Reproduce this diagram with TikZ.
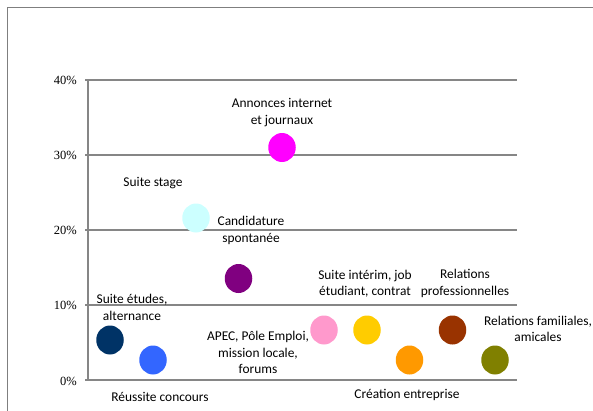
\documentclass[tikz,border=0pt]{standalone}
\usepackage{fontspec}
\setmainfont{Carlito}
\newfontfamily\tickfont{Liberation Serif}
\usetikzlibrary{shapes.geometric}
\definecolor{gridgray}{HTML}{868686}
\definecolor{framegray}{HTML}{7F7F7F}
\definecolor{cnavy}{HTML}{003366}
\definecolor{cblue}{HTML}{3366FF}
\definecolor{ccyan}{HTML}{CCFFFF}
\definecolor{cpurple}{HTML}{800080}
\definecolor{cmagenta}{HTML}{FF00FF}
\definecolor{cpink}{HTML}{FF99CC}
\definecolor{cyellow}{HTML}{FFCC00}
\definecolor{corange}{HTML}{FF9900}
\definecolor{cbrown}{HTML}{993300}
\definecolor{colive}{HTML}{808000}
\tikzset{
  bubble/.style={ellipse,minimum width=27.5pt,minimum height=29pt,inner sep=0pt,fill=#1},
  lab/.style={align=center,inner sep=0pt,font=\fontsize{13.4}{16.4}\selectfont},
  tick/.style={anchor=east,inner sep=0pt,font=\tickfont\fontsize{12.5}{14}\selectfont},
  grid/.style={gridgray,line width=1.1pt}
}
\begin{document}
\begin{tikzpicture}[x=1pt,y=-1pt]
      \useasboundingbox (0,0) rectangle (593,410);
      \draw[framegray,line width=1.3pt] (7.3,420) -- (7.3,7.3) -- (600,7.3);
      % grid and axis
      \draw[grid] (85,80) -- (517,80);   \node[tick] (t40) at (77,80) {40\%};
      \draw[grid] (85,155) -- (517,155); \node[tick] (t30) at (77,155) {30\%};
      \draw[grid] (85,230) -- (517,230); \node[tick] (t20) at (77,230) {20\%};
      \draw[grid] (85,305) -- (517,305); \node[tick] (t10) at (77,305) {10\%};
      \draw[grid] (85,380) -- (517,380); \node[tick] (t0) at (77,381) {0\%};
      \draw[grid] (88,80) -- (88,380);
      % bubbles
      \node[bubble=cnavy]    (etudes)   at (110,340)   {};
      \node[bubble=cblue]    (concours) at (153,360)   {};
      \node[bubble=ccyan]    (stage)    at (196,218)   {};
      \node[bubble=cpurple]  (candid)   at (238.5,278.5) {};
      \node[bubble=cmagenta] (annonces) at (282,147.5) {};
      \node[bubble=cpink]    (apec)     at (324,330)   {};
      \node[bubble=cyellow]  (interim)  at (367,330)   {};
      \node[bubble=corange]  (creation) at (409.5,360) {};
      \node[bubble=cbrown]   (relpro)   at (452.5,330) {};
      \node[bubble=colive]   (relfam)   at (495,360)   {};
      % labels
      \node[lab] (l-annonces) at (282,112.5) {Annonces internet\\et journaux};
      \node[lab] (l-stage)    at (153,183.5) {Suite stage};
      \node[lab] (l-candid)   at (251,230.5) {Candidature\\spontanée};
      \node[lab] (l-etudes)   at (132,307.5) {Suite études,\\alternance};
      \node[lab] (l-concours) at (160,396.5) {Réussite concours};
      \node[lab] (l-apec)     at (258,352.5) {APEC, Pôle Emploi,\\mission locale,\\forums};
      \node[lab] (l-interim)  at (365,283.5) {Suite intérim, job\\étudiant, contrat};
      \node[lab] (l-relpro)   at (465,283.5) {Relations\\professionnelles};
      \node[lab] (l-relfam)   at (538,329)   {Relations familiales,\\amicales};
      \node[lab] (l-creation) at (407,395)   {Création entreprise};
\end{tikzpicture}
\end{document}
